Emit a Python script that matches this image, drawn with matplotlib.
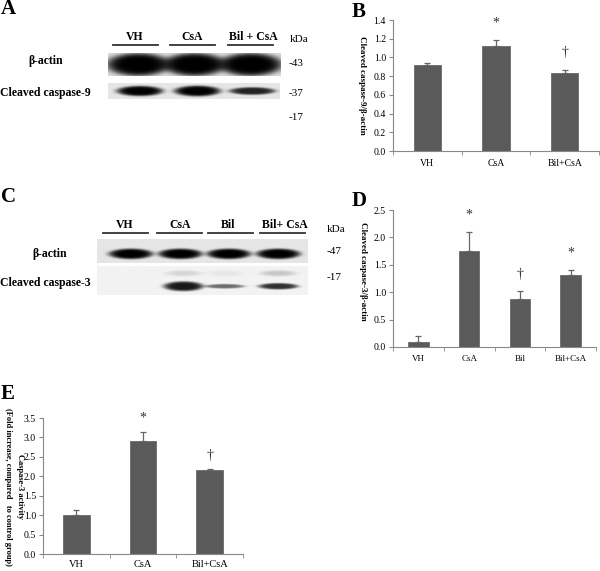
import numpy as np
import matplotlib
matplotlib.use("Agg")
import matplotlib.pyplot as plt

# ---------------- data ----------------
groups_B = ["VH", "CsA", "Bil+CsA"]
casp9_mean = [0.92, 1.12, 0.83]
casp9_err = [0.02, 0.07, 0.04]
marks_B = ["", "*", "\u2020"]

groups_D = ["VH", "CsA", "Bil", "Bil+CsA"]
casp3_mean = [0.09, 1.75, 0.87, 1.32]
casp3_err = [0.11, 0.35, 0.15, 0.09]
marks_D = ["", "*", "\u2020", "*"]

groups_E = ["VH", "CsA", "Bil+CsA"]
activity_mean = [1.00, 2.92, 2.16]
activity_err = [0.13, 0.22, 0.03]
marks_E = ["", "*", "\u2020"]

# western blot data (relative band darkness per lane)
lanes_A = ["VH", "CsA", "Bil + CsA"]
actin_A = [1.0, 1.0, 1.0]
casp9_band = [1.0, 1.0, 0.85]
casp9_thick = [1.0, 1.05, 0.75]
kda_A = ["kDa", "-43", "-37", "-17"]

lanes_C = ["VH", "CsA", "Bil", "Bil+ CsA"]
actin_C = [1.0, 1.0, 1.0, 1.0]
casp3_band = [0.0, 0.9, 0.55, 0.8]
casp3_thick = [0.0, 1.3, 0.6, 0.85]
casp3_upper = [0.0, 0.12, 0.05, 0.18]
kda_C = ["kDa", "-47", "-17"]

# ---------------- helpers ----------------
W, H = 600, 571
fig = plt.figure(figsize=(6.0, 5.71), dpi=100)
SERIF = "Liberation Serif"
plt.rcParams["font.family"] = [SERIF, "DejaVu Serif"]


def fx(x):
    return x / W


def fy(y):
    return 1 - y / H


def px_axes(x0, y0, x1, y1):
    return fig.add_axes([fx(x0), fy(y1), (x1 - x0) / W, (y1 - y0) / H])


def blot(x0, y0, x1, y1, strengths, lane_fracs, half_w, yc, half_h,
         thick=None, bg=0.12, upper=None, upper_y=None, edge=0.0):
    ax = px_axes(x0, y0, x1, y1)
    nx, ny = 400, 120
    xs = np.linspace(0, 1, nx)[None, :]
    ys = np.linspace(0, 1, ny)[:, None]
    img = np.full((ny, nx), bg)
    for i, s in enumerate(strengths):
        if s <= 0:
            continue
        t = thick[i] if thick is not None else 1.0
        r = ((xs - lane_fracs[i]) / half_w) ** 2 + ((ys - yc) / (half_h * t)) ** 2
        band = s * np.exp(-r ** 3)
        img = 1 - (1 - img) * (1 - band)
        if upper is not None and upper[i] > 0:
            r2 = ((xs - lane_fracs[i]) / (half_w * 0.9)) ** 2 + ((ys - upper_y) / 0.1) ** 2
            img = 1 - (1 - img) * (1 - upper[i] * np.exp(-r2 ** 2))
    ax.imshow(img, cmap="gray_r", vmin=0, vmax=1, aspect="auto",
              extent=[0, 1, 0, 1], origin="upper", interpolation="bilinear")
    ax.set_xlim(0, 1)
    ax.set_ylim(0, 1)
    ax.axis("off")
    return ax


def lane_header(labels, centers, y_text, y_line, spans):
    for lab, c, (a, b) in zip(labels, centers, spans):
        fig.text(fx(c), fy(y_text), lab, ha="center", va="center",
                 fontsize=8.5, fontweight="bold")
        fig.add_artist(plt.Line2D([fx(a), fx(b)], [fy(y_line), fy(y_line)],
                                  color="#333333", lw=1.3))


def bar_panel(rect, groups, means, errs, marks, ymax, ystep, ylabel,
              xfs, yfs, labx, laby, lab_fs, offset, xpad=6):
    ax = px_axes(*rect)
    x = np.arange(len(groups))
    ax.bar(x, means, width=0.4, color="#5a5a5a", edgecolor="#6a6a6a",
           linewidth=0.6, zorder=2)
    ax.errorbar(x, means, yerr=[np.zeros(len(errs)), errs], fmt="none",
                ecolor="#666666", elinewidth=0.9, capsize=2.5, capthick=0.9,
                zorder=3)
    for xi, m, e, s in zip(x, means, errs, marks):
        if s:
            ax.annotate(s, (xi, m + e), xytext=(0, offset),
                        textcoords="offset points", ha="center", va="center",
                        fontsize=10, color="#333333")
    ax.set_xlim(-0.5, len(groups) - 0.5)
    ax.set_ylim(0, ymax)
    ax.set_yticks(np.arange(0, ymax + 1e-9, ystep))
    ax.set_yticklabels([f"{v:.1f}" for v in np.arange(0, ymax + 1e-9, ystep)],
                       fontsize=yfs)
    ax.set_xticks(x)
    ax.set_xticklabels(groups, fontsize=xfs)
    ax.set_xticks(np.arange(-0.5, len(groups)), minor=True)
    ax.tick_params(axis="x", which="major", length=0, pad=xpad)
    ax.tick_params(axis="x", which="minor", length=3, color="#888888",
                   direction="out")
    ax.tick_params(axis="y", length=3, color="#888888", pad=2)
    for sp in ["top", "right"]:
        ax.spines[sp].set_visible(False)
    for sp in ["left", "bottom"]:
        ax.spines[sp].set_color("#888888")
        ax.spines[sp].set_linewidth(0.8)
    if ylabel:
        ax.set_ylabel(ylabel, rotation=-90, fontsize=lab_fs,
                      fontweight="bold", va="center", ha="center")
        ax.yaxis.set_label_coords(labx, laby)
    return ax


# ---------------- panel letters ----------------
for letter, (x, y) in {"A": (1, 9), "B": (352, 12), "C": (1, 197),
                       "D": (352, 201), "E": (1, 394)}.items():
    fig.text(fx(x), fy(y), letter, ha="left", va="center", fontsize=15,
             fontweight="bold")

# ---------------- panel A (blot) ----------------
lane_header(lanes_A, [135, 192, 253], 37, 45,
            [(113, 158), (170, 215), (228, 273)])
blot(108, 53, 281, 76, actin_A, [0.175, 0.5, 0.825], 0.185, 0.5, 0.5,
     bg=0.15)
blot(108, 83, 280, 99, casp9_band, [0.185, 0.52, 0.84], 0.135, 0.5, 0.32,
     thick=casp9_thick, bg=0.1)
fig.text(fx(46), fy(61), "\u03b2-actin", ha="center", va="center",
         fontsize=8.5, fontweight="bold")
fig.text(fx(0), fy(93), "Cleaved caspase-9", ha="left", va="center",
         fontsize=8.5, fontweight="bold")
for lab, (x, y) in zip(kda_A, [(290, 40), (289, 63), (289, 93), (289, 117)]):
    fig.text(fx(x), fy(y), lab, ha="left", va="center", fontsize=8)

# ---------------- panel C (blot) ----------------
lane_header(lanes_C, [125, 180, 228, 285], 225, 233,
            [(103, 148), (157, 202), (208, 253), (260, 305)])
blot(97, 239, 308, 263, actin_C, [0.16, 0.395, 0.625, 0.86], 0.105, 0.62,
     0.22, bg=0.1)
blot(97, 266, 308, 295, casp3_band, [0.165, 0.41, 0.605, 0.86], 0.095, 0.7,
     0.13, thick=casp3_thick, bg=0.05, upper=casp3_upper, upper_y=0.25)
fig.text(fx(50), fy(254), "\u03b2-actin", ha="center", va="center",
         fontsize=8.5, fontweight="bold")
fig.text(fx(0), fy(283), "Cleaved caspase-3", ha="left", va="center",
         fontsize=8.5, fontweight="bold")
for lab, (x, y) in zip(kda_C, [(327, 230), (327, 251), (327, 277)]):
    fig.text(fx(x), fy(y), lab, ha="left", va="center", fontsize=8)

# ---------------- panel B ----------------
bar_panel((393, 20, 599, 151), groups_B, casp9_mean, casp9_err, marks_B,
          1.4, 0.2, "Cleaved caspase-9/\u03b2-actin", 7, 7, -0.15, 0.5, 6.5,
          12)

# ---------------- panel D ----------------
bar_panel((393, 210, 596, 347), groups_D, casp3_mean, casp3_err, marks_D,
          2.5, 0.5, "Cleaved caspase-3/\u03b2-actin", 6.5, 7, -0.15, 0.55,
          6.5, 12)

# ---------------- panel E ----------------
bar_panel((43, 418, 243, 554), groups_E, activity_mean, activity_err,
          marks_E, 3.5, 0.5, None, 7.5, 7, 0, 0, 6, 10, xpad=4)
fig.text(fx(14), fy(487),
         "Caspase-3 activity\n(Fold increase, compared   to control group)",
         rotation=-90, ha="center", va="center", multialignment="center",
         fontsize=6, fontweight="bold", linespacing=1.6)

fig.savefig("out.png", dpi=100)
